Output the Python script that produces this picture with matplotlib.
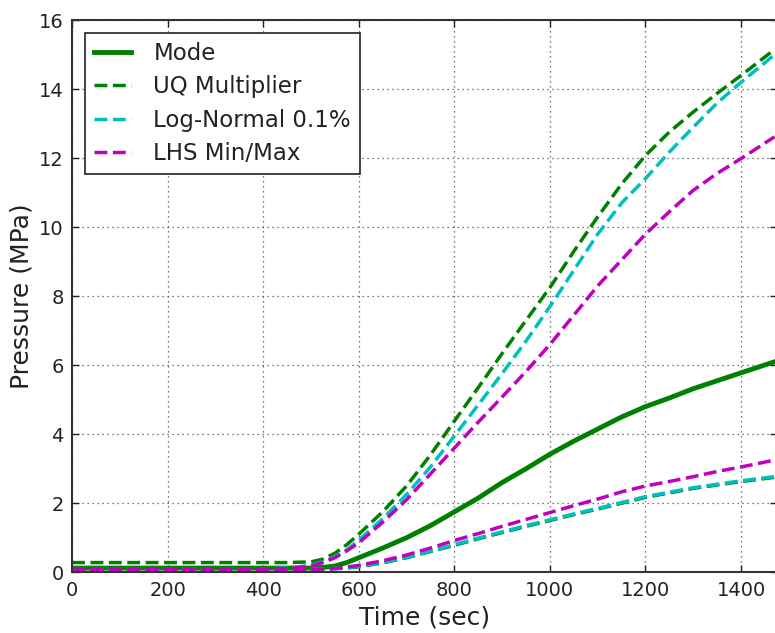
import matplotlib
matplotlib.use('Agg')
import matplotlib.pyplot as plt

# time points (sec)
time = [0, 100, 200, 300, 400, 450, 500, 525, 550, 575, 600, 650, 700, 750,
        800, 850, 900, 950, 1000, 1050, 1100, 1150, 1200, 1250, 1300, 1350, 1400, 1470]

mode = [0.12, 0.12, 0.12, 0.12, 0.12, 0.12, 0.12, 0.14, 0.18, 0.28, 0.42, 0.70, 1.00, 1.35,
        1.75, 2.15, 2.60, 3.00, 3.42, 3.80, 4.15, 4.50, 4.80, 5.05, 5.32, 5.55, 5.78, 6.10]

uq_max = [0.28, 0.28, 0.28, 0.28, 0.28, 0.28, 0.30, 0.38, 0.55, 0.80, 1.10, 1.75, 2.50, 3.40,
          4.38, 5.35, 6.34, 7.30, 8.25, 9.30, 10.30, 11.25, 12.08, 12.76, 13.34, 13.88, 14.40, 15.15]
uq_min = [0.08, 0.08, 0.08, 0.08, 0.08, 0.08, 0.08, 0.09, 0.10, 0.12, 0.16, 0.27, 0.42, 0.60,
          0.78, 0.97, 1.15, 1.33, 1.50, 1.67, 1.83, 2.00, 2.17, 2.30, 2.43, 2.53, 2.63, 2.75]

ln_max = [0.10, 0.10, 0.10, 0.10, 0.10, 0.12, 0.20, 0.30, 0.45, 0.65, 0.93, 1.55, 2.25, 3.05,
          3.95, 4.85, 5.76, 6.70, 7.70, 8.75, 9.80, 10.70, 11.41, 12.18, 12.90, 13.60, 14.20, 15.00]
ln_min = [0.09, 0.09, 0.09, 0.09, 0.09, 0.09, 0.09, 0.10, 0.11, 0.13, 0.17, 0.28, 0.43, 0.61,
          0.80, 0.99, 1.17, 1.35, 1.52, 1.69, 1.85, 2.02, 2.19, 2.32, 2.45, 2.55, 2.65, 2.77]

lhs_max = [0.10, 0.10, 0.10, 0.10, 0.10, 0.10, 0.18, 0.28, 0.42, 0.62, 0.85, 1.45, 2.10, 2.85,
           3.60, 4.35, 5.08, 5.82, 6.60, 7.45, 8.30, 9.05, 9.80, 10.45, 11.07, 11.56, 11.99, 12.62]
lhs_min = [0.08, 0.08, 0.08, 0.08, 0.08, 0.08, 0.08, 0.09, 0.11, 0.15, 0.20, 0.33, 0.50, 0.70,
           0.92, 1.12, 1.33, 1.53, 1.73, 1.93, 2.12, 2.33, 2.50, 2.63, 2.77, 2.92, 3.05, 3.25]

x_ticks = [0, 200, 400, 600, 800, 1000, 1200, 1400]
y_ticks = [0, 2, 4, 6, 8, 10, 12, 14, 16]

fig = plt.figure(figsize=(7.75, 6.33), dpi=100)
ax = fig.add_axes([0.093, 0.096, 0.91, 0.872])

ax.plot(time, mode, color='green', lw=3.5, label='Mode')
ax.plot(time, uq_max, '--', color='green', lw=2.5, label='UQ Multiplier')
ax.plot(time, uq_min, '--', color='green', lw=2.5)
ax.plot(time, ln_max, '--', color='c', lw=2.5, label='Log-Normal 0.1%')
ax.plot(time, ln_min, '--', color='c', lw=2.5)
ax.plot(time, lhs_max, '--', color='m', lw=2.5, label='LHS Min/Max')
ax.plot(time, lhs_min, '--', color='m', lw=2.5)

ax.set_xlim(0, 1476)
ax.set_ylim(0, 16)
ax.set_xticks(x_ticks)
ax.set_yticks(y_ticks)
ax.tick_params(direction='in', top=True, right=True, length=5, width=1, labelsize=14,
               pad=6, colors='#222222')
ax.grid(True, color='0.3', linestyle=(0, (1, 3)), lw=0.9)
for s in ax.spines.values():
    s.set_linewidth(1.5)
    s.set_color('#333333')

ax.set_xlabel('Time (sec)', fontsize=18, color='#222222')
ax.set_ylabel('Pressure (MPa)', fontsize=18, color='#222222')

leg = ax.legend(loc='upper left', fontsize=16.5, fancybox=False, framealpha=1,
                edgecolor='#222222', handlelength=1.6, borderpad=0.4, labelspacing=0.45,
                handletextpad=1.0, borderaxespad=0.55)
leg.get_frame().set_linewidth(1.2)
for t in leg.get_texts():
    t.set_color('#222222')

plt.savefig('out.png', dpi=100)
